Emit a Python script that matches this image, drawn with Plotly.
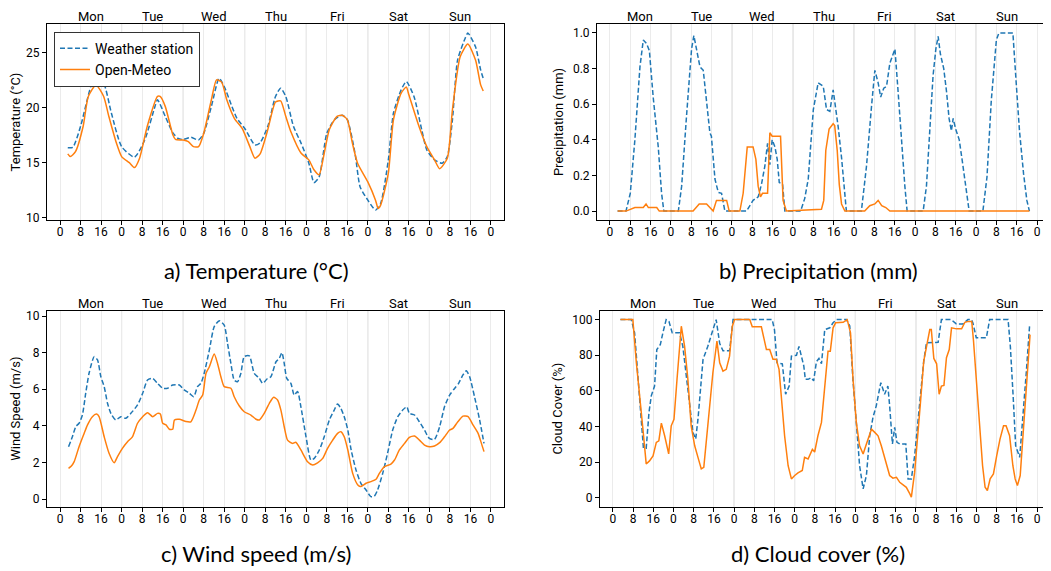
import plotly.graph_objects as go

# ---------------- data (hours since Monday 00:00) ----------------
DAYS = ["Mon", "Tue", "Wed", "Thu", "Fri", "Sat", "Sun"]
HOUR_LABELS = ["0", "8", "16"]
SERIES_NAMES = ["Weather station", "Open-Meteo"]
CAPTIONS = ["a) Temperature (°C)", "b) Precipitation (mm)", "c) Wind speed (m/s)", "d) Cloud cover (%)"]
Y_TITLES = ["Temperature (°C)", "Precipitation (mm)", "Wind Speed (m/s)", "Cloud Cover (%)"]

temp_station_h = [3, 5, 8, 12, 14, 17, 20, 24, 29, 33, 37, 38, 41, 44, 46, 48, 51, 54, 56, 59, 62, 64, 67, 69,
                  72, 76, 78, 81, 84, 86, 88, 91, 94, 97, 99, 101, 104, 107, 110, 112, 115, 117, 120, 123, 125,
                  128, 130, 133, 135, 138, 141, 143, 146, 149, 151, 153, 155, 158, 159, 162, 164, 165]
temp_station = [16.35, 16.4, 18.3, 21.9, 22.75, 22.2, 19.5, 16.45, 15.5, 17.05, 20.1, 20.7, 19.2, 17.7, 17.2,
                17.1, 17.3, 17.05, 17.65, 20.1, 22.65, 21.9, 20.1, 19.0, 18.1, 16.6, 16.8, 18.3, 21.0, 21.75,
                21.0, 18.3, 16.75, 14.95, 13.2, 13.7, 17.65, 18.9, 19.3, 18.9, 15.85, 12.8, 11.6, 10.7, 11.3,
                15.25, 19.5, 21.6, 22.35, 21.0, 18.0, 16.15, 15.25, 14.95, 15.55, 18.9, 24.3, 26.3, 26.75,
                25.5, 23.4, 22.65]

temp_meteo_h = [3, 4, 6, 9, 11, 14, 17, 19, 22, 24, 27, 29, 31, 34, 38, 39, 41, 44, 45, 48, 50, 52, 54, 56,
                59, 61, 63, 65, 68, 71, 74, 76, 78, 81, 84, 86, 88, 90, 94, 97, 99, 101, 103, 105, 108, 110,
                112, 114, 116, 120, 123, 124, 125, 128, 130, 133, 135, 136, 140, 143, 146, 148, 151, 153,
                156, 159, 162, 164, 165]
temp_meteo = [15.8, 15.55, 16.0, 18.3, 21.0, 22.05, 21.0, 19.2, 16.75, 15.55, 15.0, 14.55, 15.4, 18.3, 21.0,
              21.0, 20.1, 17.5, 17.1, 17.05, 16.9, 16.45, 16.45, 17.65, 20.7, 22.5, 22.3, 20.7, 19.0, 18.1,
              16.45, 15.4, 15.8, 18.0, 20.5, 20.6, 19.2, 17.8, 15.85, 15.25, 14.35, 13.9, 15.85, 18.0, 19.2,
              19.3, 18.9, 16.75, 14.95, 13.25, 11.6, 10.85, 11.15, 14.05, 18.9, 21.3, 21.85, 21.15, 18.25,
              16.45, 15.25, 14.45, 15.4, 19.8, 24.6, 25.75, 24.3, 22.05, 21.5]

precip_station_h = [3, 6.3, 8, 9.8, 11.8, 13.1, 14.4, 15.5, 17, 19, 20.3, 21.2, 26.9, 28.2, 30.1, 32.1, 33,
                    34.1, 35.4, 36.7, 38, 39.3, 39.9, 41.3, 42.6, 43.9, 45.2, 53.7, 56.3, 58.3, 59.6, 60.9,
                    62, 62.9, 63.8, 64.9, 65.8, 66.6, 67.9, 68.8, 75, 76.6, 78, 80, 81.9, 83.9, 85.2, 86.5,
                    87.8, 88.4, 89.8, 91.1, 92.4, 93, 98.9, 100.9, 102.9, 104.2, 105.5, 106.5, 107.7, 108.8,
                    110.1, 112.1, 113.3, 114.6, 116, 116.9, 123.2, 124.5, 125.8, 127.1, 128.2, 129.1, 130,
                    131.3, 132.4, 133.4, 134.3, 135, 136, 137.4, 138.7, 140, 141.3, 146.7, 148.3, 150, 152,
                    153, 158.5, 159.8, 161.1, 162.7, 164, 165]
precip_station = [0, 0, 0.10, 0.40, 0.81, 0.96, 0.94, 0.90, 0.64, 0.36, 0.10, 0, 0, 0.14, 0.53, 0.91, 0.985,
                  0.90, 0.81, 0.79, 0.63, 0.44, 0.42, 0.18, 0.105, 0.10, 0, 0, 0.06, 0.08, 0.15, 0.25,
                  0.38, 0.26, 0.40, 0.36, 0.29, 0.16, 0.15, 0, 0, 0.07, 0.18, 0.57, 0.72, 0.70, 0.57, 0.56,
                  0.68, 0.62, 0.47, 0.30, 0.06, 0, 0, 0.25, 0.59, 0.79, 0.72, 0.64, 0.69, 0.70,
                  0.83, 0.91, 0.68, 0.40, 0.14, 0, 0, 0.14, 0.47, 0.76, 0.91, 0.98, 0.88,
                  0.80, 0.67, 0.52, 0.45, 0.52, 0.46, 0.40, 0.27, 0.14, 0, 0, 0.19, 0.62, 0.96,
                  1.0, 1.0, 0.72, 0.45, 0.21, 0.06, 0]

precip_meteo_h = [3, 6.3, 9.8, 13.1, 14.2, 15.1, 18.4, 19.4, 32.7, 35.1, 38, 40.6, 41.9, 45.9, 46.9, 51.1,
                  52.4, 54, 56.3, 57.4, 58.3, 59.2, 60, 62, 62.9, 63.8, 67.1, 68.1, 69.4, 83.2, 84.1, 84.9,
                  86.2, 87.8, 88.4, 89.4, 90.2, 91.1, 92.4, 100.2, 102.2, 104.2, 105.5, 106.9, 108.5, 110.1,
                  165]
precip_meteo = [0, 0, 0.02, 0.02, 0.04, 0.02, 0.02, 0, 0, 0.04, 0.04, 0, 0.06, 0.06, 0, 0,
                0.10, 0.36, 0.36, 0.29, 0.14, 0.08, 0.10, 0.10, 0.44, 0.42, 0.42, 0.06, 0, 0.01, 0.06, 0.34,
                0.46, 0.49, 0.48, 0.34, 0.15, 0.04, 0, 0, 0.03, 0.04, 0.06, 0.03, 0.02, 0,
                0]

wind_station_h = [3.3, 4.8, 6.1, 7.4, 8.7, 10, 11.3, 13.3, 14.6, 15.9, 17.2, 18.5, 19.8, 21.7, 23.7, 25.6,
                  27.6, 30.2, 32.2, 34.1, 36.1, 38, 40, 41.9, 43.9, 46.5, 48.4, 50.4, 52.1, 53.6, 54.9, 56.2,
                  58.2, 60.1, 62.1, 64, 65.3, 66.6, 67.9, 69.2, 70.5, 71.8, 73.8, 75.7, 77.7, 79, 80.9, 82.2,
                  84.2, 85.5, 86.5, 87.4, 88.4, 90, 91.3, 92.6, 93.9, 95.9, 97.8, 99.1, 101.1, 103, 105,
                  106.9, 108.2, 109.5, 110.8, 112.2, 113.5, 115.4, 117.3, 119.3, 121.2, 122.5, 123.8, 125.8,
                  127.7, 129.7, 131.7, 133.6, 135.2, 136.2, 138.2, 140.1, 142.1, 144, 146, 148, 149.9, 151.9,
                  153.9, 155.4, 157.1, 158.4, 159.7, 161.6, 163.6, 165.3]
wind_station = [2.86, 3.40, 3.95, 4.14, 4.59, 5.78, 6.87, 7.78, 7.6, 6.68, 6.14, 5.23, 4.68, 4.32, 4.5, 4.41,
                4.68, 5.14, 5.78, 6.5, 6.59, 6.32, 6.05, 6.05, 6.23, 6.23, 5.96, 5.78, 5.59, 6.14, 6.32, 6.87,
                8.14, 9.42, 9.74, 9.5, 8.5, 7.41, 6.5, 6.41, 6.87, 7.78, 7.82, 6.87, 6.59, 6.32, 6.59, 6.68,
                7.5, 7.69, 8.0, 7.41, 6.59, 6.32, 5.68, 5.87, 5.04, 3.40, 2.13, 2.22, 2.68, 3.4, 4.32,
                4.86, 5.19, 4.95, 4.5, 3.77, 2.68, 1.58, 0.86, 0.49, 0.13, 0.15, 0.49, 1.40,
                2.50, 3.77, 4.5, 4.86, 5.04, 4.68, 4.59, 4.22, 3.77, 3.31, 3.26, 3.95, 5.04, 5.68,
                6.05, 6.32, 6.78, 7.01, 6.68, 5.59, 4.32, 3.04]

wind_meteo_h = [3.3, 4.4, 5.5, 7.4, 9.4, 10.7, 12.6, 14.2, 15.2, 17.2, 19.1, 21.1, 22.4, 24.3, 26.3, 28.2,
                30.2, 32.2, 34.1, 36.1, 38, 39.1, 40, 41.3, 42.6, 43.9, 44.6, 46.5, 49.1, 51, 53, 54.3, 55.6,
                56.9, 58.2, 60.1, 61.4, 62.7, 64, 66.6, 67.9, 69.9, 71.8, 74.4, 76.4, 77.7, 79.6, 81.6, 83.3,
                84.8, 86.1, 87.4, 88.7, 90.6, 91.9, 93.9, 96.5, 98.5, 100.4, 102.4, 104.3, 106.3, 108.2,
                109.5, 110.8, 112.2, 114.1, 116.1, 117.3, 119.3, 121.2, 123.2, 124.5, 126.5, 129, 130.4,
                132.3, 134.3, 136.2, 138.2, 140.1, 142.1, 144, 146, 148, 149.9, 151.9, 153.2, 155.1, 157.1,
                159.1, 161, 163, 164.3, 165.3]
wind_meteo = [1.68, 1.80, 2.04, 2.86, 3.59, 4.05, 4.5, 4.64, 4.5, 3.40, 2.50, 1.98, 2.32, 2.77, 3.13, 3.40,
              4.14, 4.5, 4.72, 4.5, 4.68, 4.64, 4.14, 4.05, 3.81, 3.81, 4.32, 4.36, 4.23, 4.22, 4.86, 5.41,
              5.68, 6.87, 7.23, 7.92, 7.41, 6.68, 6.14, 6.05, 5.59, 5.08, 4.77, 4.59, 4.36, 4.32, 4.68, 5.23,
              5.56, 5.41, 4.86, 3.95, 3.22, 3.04, 3.1, 2.68, 2.04, 1.86, 1.98, 2.22, 2.77, 3.22, 3.59,
              3.68, 3.40, 2.68, 1.40, 0.77, 0.68, 0.86, 0.95, 1.08, 1.40, 1.77, 1.91, 2.13,
              2.68, 3.04, 3.37, 3.44, 3.22, 2.95, 2.86, 2.90, 3.08, 3.40, 3.77, 3.86, 4.22, 4.53,
              4.5, 4.05, 3.59, 3.04, 2.59]

cloud_station_h = [3, 7.3, 8.6, 9.9, 11.2, 12.1, 13.2, 14.3, 15.2, 16.5, 17.4, 18.8, 19.8, 21.1, 22.2, 23.5,
                   26.4, 27.7, 29.7, 31.7, 32.8, 33.7, 35.7, 37.6, 39.6, 40.9, 42.3, 43.6, 46.2, 47.6, 63.1,
                   64, 65, 67.1, 68.4, 69.8, 70.7, 72.7, 73.7, 74.7, 75.6, 76.2, 77.3, 78.6, 79.5, 80.6, 81.6,
                   82.6, 83.9, 85.9, 87.2, 88.5, 92.5, 93.8, 95.1, 96.4, 97.7, 99.1, 100.4, 101.7, 103,
                   104.3, 106.1, 107.6, 108.9, 109.6, 110.7, 111.6, 112.5, 113.6, 116, 116.9, 118.2, 119.5,
                   121.5, 123.1, 124.2, 128.8, 130.1, 134, 136, 138.6, 140.6, 142, 142.6, 143.9, 147.9,
                   149.2, 156.5, 157.4, 158.5, 159.5, 161.1, 162.4, 163.7, 165]
cloud_station = [100, 100, 92.6, 70.2, 44.1, 27.8, 27.8, 47.9, 57.2, 62.7, 83.2, 86.0, 92.6, 100, 99, 92.6,
                 92.6, 85, 60.9, 36.7, 33, 44.1, 77.7, 85, 94.2, 100, 86.6, 82.5, 82.5, 100, 100,
                 94.2, 75.8, 75.2, 58.1, 62.7, 79.5, 80, 85, 79, 74, 66.5, 66.5, 67.4, 65.6, 76.4, 78.2,
                 75.2, 94.4, 95.4, 98.2, 100, 100, 96.5, 65.6, 42.3, 18.0, 5.0, 12.5, 34.8, 45.1,
                 51.6, 64.6, 58.1, 62.7, 51.6, 30.2, 39.5, 31.1, 30.2, 30.2, 10.6, 10.6, 23.6,
                 51.6, 76.7, 87, 87.3, 100, 100, 97.6, 97.6, 100, 100, 98, 89.8, 89.8,
                 100, 100, 85, 57.2, 29.2, 22.7, 44.1, 70.2, 96.3]

cloud_meteo_h = [3, 7.9, 9.3, 10.6, 11.9, 13.2, 14.5, 15.9, 17.2, 18.2, 19.2, 20.5, 21.1, 22.1, 23.1, 24.2,
                 25.4, 27.1, 28.4, 29.7, 31, 32.4, 33.7, 35, 36, 37, 38.3, 39.6, 41.2, 42.3, 43.6, 44.9, 46.2,
                 47.3, 48.2, 54.2, 55.2, 58.8, 60.8, 62.1, 63.4, 64.7, 65.8, 66.7, 68, 69.4, 70.7, 72, 73.3,
                 75, 75.9, 77.3, 79, 79.9, 81.2, 82.6, 83.9, 85.2, 86.1, 87.2, 88.2, 91.2, 92.8, 94.1, 95.1,
                 96.4, 97.7, 99.1, 100.4, 102.4, 103.7, 105, 106.3, 107.6, 109.6, 110.9, 112.3, 113.6, 115.2,
                 116.2, 117.6, 118.2, 119.5, 120.8, 121.8, 123.1, 124.2, 125.5, 126.1, 127.1, 128.2, 129.2,
                 130.1, 131.1, 132.1, 133.2, 134.1, 136.1, 138.1, 139.4, 140.8, 142.1, 142.8, 144.1, 145.4,
                 146.4, 147.4, 148.3, 149.4, 150.7, 152, 153.3, 154.7, 155.7, 157.1, 158.4, 159.3, 160.2,
                 161.3, 162.6, 163.9, 165.2]
cloud_meteo = [100, 100, 75.8, 59, 38.5, 19, 20.7, 23.5, 31.1, 32, 41.9, 34.8, 31.1, 24.6, 40.4, 44.1,
               66.5, 96.3, 85, 66.5, 40.4, 29.2, 22.7, 16.2, 17.1, 32.9, 51.6, 70.2, 87.9, 75.8, 71.1, 72.1, 79.5,
               96.3, 100, 100, 96, 96, 83.2, 83.2, 77.7, 77.7, 72.1, 55.9, 34.8, 18, 10.6, 12.5, 14,
               15.3, 22.7, 21.8, 27.2, 25.7, 34.8, 42.3, 60.9, 82.3, 82.3, 95.4, 98.2, 98.5, 100, 92.6, 66.5,
               42.3, 29.2, 24.6, 30.2, 38.5, 36.7, 34.8, 29.2, 22.7, 12.5, 11.0, 11.5, 8.7, 6.9,
               5.9, 2.2, 0.4, 14.4, 34.8, 53.4, 76.7, 85, 94.4, 94.4, 78.2, 75.2, 58.1,
               62.7, 63.1, 78.6, 83.2, 95.4, 94.8, 94.8, 98.5, 99, 99, 88.3, 62.7, 38.5,
               18, 5.9, 4.1, 10.6, 13.4, 23.6, 32.9, 40.4, 40.4, 34.8, 18, 10.6, 6.9,
               12.5, 38.5, 66.5, 91.6]

# ---------------- styling / layout ----------------
PAGE_W, PAGE_H = 1051, 571
OFF = 8                      # default HTML body margin
W, H = PAGE_W - OFF, PAGE_H - OFF
BLUE, ORANGE = "#1f77b4", "#ff7f0e"
SANS = "Roboto, sans-serif"
TICK_FONT = dict(family=SANS, size=12, color="black")
DAY_FONT = dict(family=SANS, size=13, color="black")
CAP_FONT = dict(family="Lato, Noto Sans, sans-serif", size=22, color="black")
X_RANGE = [-5.1, 173.1]

def px_x(a, b):
    return [(a - OFF) / W, (b - OFF) / W]

def px_y(top, bottom):
    return [1 - (bottom - OFF) / H, 1 - (top - OFF) / H]

panels = [
    dict(ax="", xd=px_x(47, 504), yd=px_y(24, 220), yr=[9.8, 27.57], ytv=[10, 15, 20, 25], yfmt="d",
         data=[(temp_station_h, temp_station), (temp_meteo_h, temp_meteo)], smooth=True),
    dict(ax="2", xd=px_x(597, 1050), yd=px_y(24, 220), yr=[-0.05, 1.05], ytv=[0, 0.2, 0.4, 0.6, 0.8, 1.0],
         yfmt=".1f", data=[(precip_station_h, precip_station), (precip_meteo_h, precip_meteo)], smooth=False),
    dict(ax="3", xd=px_x(47, 504), yd=px_y(310.7, 506.7), yr=[-0.42, 10.29], ytv=[0, 2, 4, 6, 8, 10],
         yfmt="d", data=[(wind_station_h, wind_station), (wind_meteo_h, wind_meteo)], smooth=True),
    dict(ax="4", xd=px_x(600, 1050), yd=px_y(310.7, 506.7), yr=[-5, 105], ytv=[0, 20, 40, 60, 80, 100],
         yfmt="d", data=[(cloud_station_h, cloud_station), (cloud_meteo_h, cloud_meteo)], smooth=False),
]

fig = go.Figure()
shapes, annotations = [], []
tick_vals = list(range(0, 24 * len(DAYS) + 1, 8))
tick_text = [HOUR_LABELS[i % len(HOUR_LABELS)] for i in range(len(tick_vals))]

for i, p in enumerate(panels):
    xa, ya = "x" + p["ax"], "y" + p["ax"]
    for j, (hx, vy) in enumerate(p["data"]):
        fig.add_trace(go.Scatter(
            x=hx, y=vy, mode="lines", name=SERIES_NAMES[j], showlegend=(i == 0), xaxis=xa, yaxis=ya,
            line=dict(color=BLUE if j == 0 else ORANGE, width=1.5,
                      dash="5px,2.5px" if j == 0 else "solid",
                      shape="spline" if p["smooth"] else "linear", smoothing=0.6),
        ))
    common_x = dict(domain=p["xd"], range=X_RANGE, tickvals=tick_vals, ticktext=tick_text,
                    showgrid=True, gridcolor="#ebebeb", gridwidth=1, ticks="outside", ticklen=4,
                    tickcolor="black", showline=True, linecolor="black", linewidth=1, mirror=True,
                    zeroline=False, tickfont=TICK_FONT, anchor=ya, automargin=False,
                    ticklabelstandoff=-3)
    common_y = dict(domain=p["yd"], range=p["yr"], tickvals=p["ytv"], tickformat=p["yfmt"],
                    showgrid=False, ticks="outside", ticklen=4, tickcolor="black", showline=True,
                    linecolor="black", linewidth=1, mirror=True, zeroline=False, tickfont=TICK_FONT,
                    anchor=xa, automargin=False,
                    title=dict(text=Y_TITLES[i], font=dict(family=SANS, size=13, color="black"),
                               standoff=6))
    fig.update_layout({"xaxis" + p["ax"]: common_x, "yaxis" + p["ax"]: common_y})
    # darker midnight lines
    for d in range(1, len(DAYS)):
        shapes.append(dict(type="line", xref=xa, yref=ya + " domain", x0=24 * d, x1=24 * d, y0=0, y1=1,
                           line=dict(color="#cfcfcf", width=1), layer="below"))
    # day names on top
    for d, name in enumerate(DAYS):
        annotations.append(dict(text=name, xref=xa, yref=ya + " domain", x=24 * d + 12, y=1, yanchor="bottom",
                                yshift=-2, showarrow=False, font=DAY_FONT))
    # caption
    cx = (256 - OFF) / W if i % 2 == 0 else (818 - OFF) / W
    cy = 1 - ((270 if i < 2 else 553) - OFF) / H
    annotations.append(dict(text=CAPTIONS[i], xref="paper", yref="paper", x=cx, y=cy, xanchor="center",
                            yanchor="middle", showarrow=False, font=CAP_FONT))

fig.update_layout(
    width=W, height=H, margin=dict(l=0, r=0, t=0, b=0), plot_bgcolor="white", paper_bgcolor="white",
    shapes=shapes, annotations=annotations,
    legend=dict(x=(54 - OFF) / W, y=1 - (31.7 - OFF) / H, xanchor="left", yanchor="top", bgcolor="white",
                bordercolor="#333333", borderwidth=1,
                font=dict(family=SANS, size=14, color="black")),
)
fig.write_html("out.html")
